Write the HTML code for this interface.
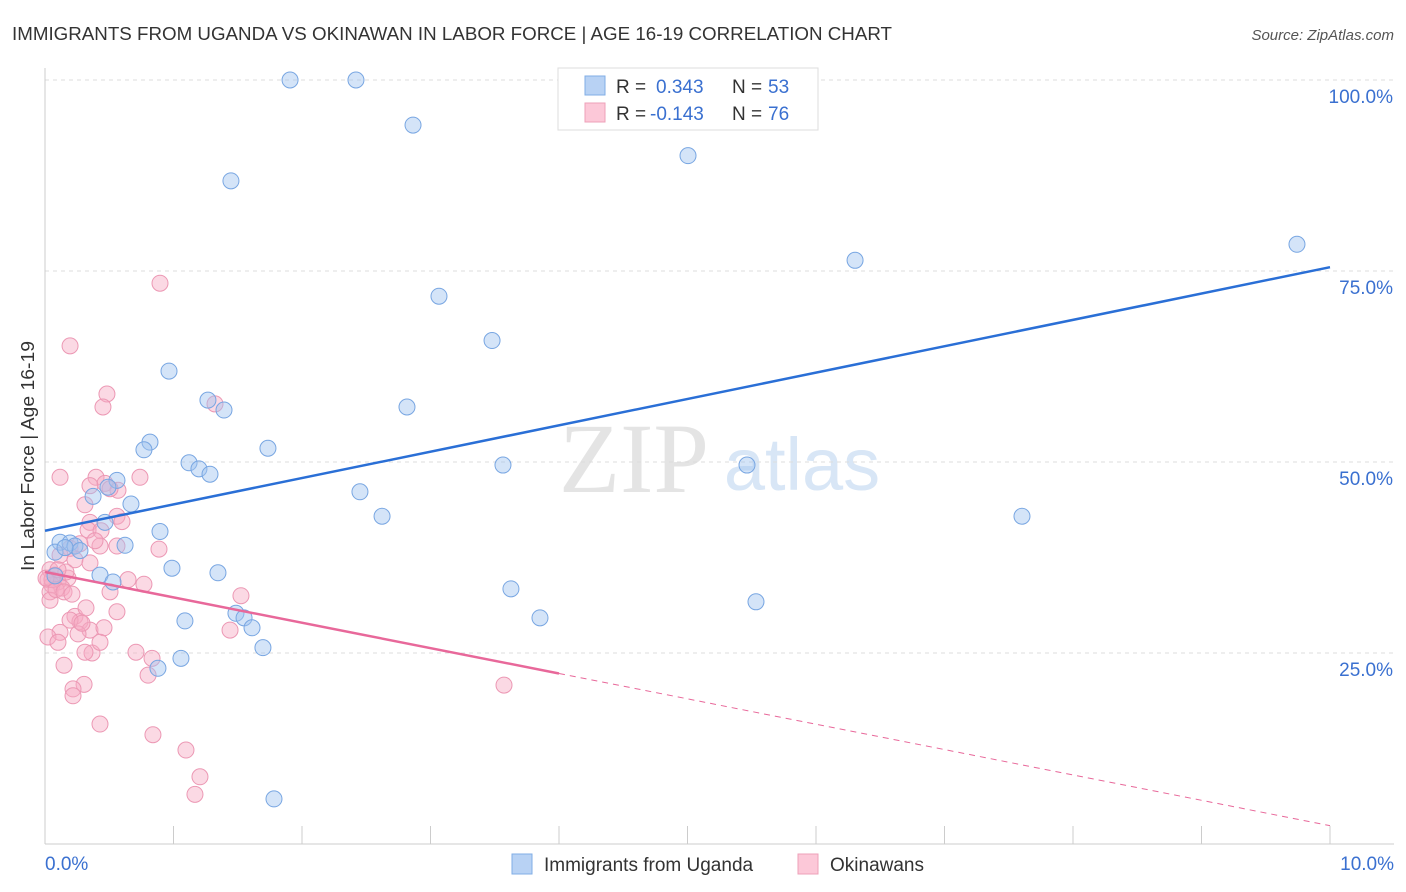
<!DOCTYPE html>
<html><head><meta charset="utf-8">
<style>
body{margin:0;background:#fff;font-family:"Liberation Sans",sans-serif;}
svg{display:block}
</style></head>
<body>
<svg id="chart" width="1406" height="892" xmlns="http://www.w3.org/2000/svg">
<text x="12" y="40" font-size="18" fill="#333" textLength="880" lengthAdjust="spacingAndGlyphs">IMMIGRANTS FROM UGANDA VS OKINAWAN IN LABOR FORCE | AGE 16-19 CORRELATION CHART</text>
<text x="1394" y="40" font-size="15" fill="#555" text-anchor="end" font-style="italic">Source: ZipAtlas.com</text>
<g>
<text x="634" y="492" font-size="100" fill="#e4e4e4" text-anchor="middle" font-family="Liberation Serif,serif">ZIP</text>
<text x="802" y="490" font-size="74" fill="#d8e6f6" text-anchor="middle">atlas</text>
</g>
<g id="grid"></g>
<g id="axes"></g>
<g id="pts"></g>
<g id="lines"></g>
<text transform="translate(34,456) rotate(-90)" font-size="18" fill="#333" text-anchor="middle" textLength="230" lengthAdjust="spacingAndGlyphs">In Labor Force | Age 16-19</text>
<g>
<rect x="558" y="68" width="260" height="62" fill="#fff" stroke="#ddd"/>
<rect x="585" y="76" width="20" height="19" fill="#b8d2f4" stroke="#80aee6"/>
<rect x="585" y="103" width="20" height="19" fill="#fcc8d8" stroke="#eea0b8"/>
<text x="616" y="93" font-size="19" fill="#333">R =</text><text x="656" y="93" font-size="19" fill="#3a70d0">0.343</text>
<text x="732" y="93" font-size="19" fill="#333">N =</text><text x="768" y="93" font-size="19" fill="#3a70d0">53</text>
<text x="616" y="120" font-size="19" fill="#333">R =</text><text x="650" y="120" font-size="19" fill="#3a70d0">-0.143</text>
<text x="732" y="120" font-size="19" fill="#333">N =</text><text x="768" y="120" font-size="19" fill="#3a70d0">76</text>
</g>
<g>
<rect x="512" y="854" width="20" height="20" fill="#b8d2f4" stroke="#80aee6"/>
<text x="544" y="871" font-size="19" fill="#333">Immigrants from Uganda</text>
<rect x="798" y="854" width="20" height="20" fill="#fcc8d8" stroke="#eea0b8"/>
<text x="830" y="871" font-size="19" fill="#333">Okinawans</text>
</g>
</svg>
<script>
const yTicks=[100,75,50,25];
const yTickLabels=["100.0%","75.0%","50.0%","25.0%"];
const xTickLabels=["0.0%","10.0%"];
const blueX=[1.907,2.420,2.864,1.447,5.004,6.304,9.743,3.066,3.479,0.965,1.268,1.393,2.817,1.735,0.817,0.770,1.121,1.198,1.284,3.564,5.463,0.560,0.490,0.374,0.669,2.451,2.623,7.603,0.467,0.895,0.117,0.195,0.233,0.623,0.078,0.272,0.988,1.346,0.428,0.529,3.626,1.486,1.549,1.611,1.089,3.852,5.533,1.696,1.058,0.879,1.782,0.078,0.156];
const blueY=[100,100,94.1,86.8,90.1,76.4,78.5,71.7,65.9,61.9,58.1,56.8,57.2,51.8,52.6,51.6,49.9,49.1,48.4,49.6,49.6,47.6,46.7,45.5,44.5,46.1,42.9,42.9,42.1,40.9,39.5,39.4,39.0,39.1,38.2,38.4,36.1,35.5,35.2,34.3,33.4,30.2,29.6,28.3,29.2,29.6,31.7,25.7,24.3,23.0,5.9,35.1,38.8];
const pinkX=[0.895,0.195,0.482,0.451,1.323,0.117,0.739,0.397,0.467,0.350,0.568,0.311,0.560,0.350,0.335,0.436,0.428,0.560,0.887,0.195,0.117,0.233,0.350,0.039,0.078,0.179,0.023,0.101,0.054,0.132,0.039,0.506,0.770,1.525,0.039,0.560,0.233,0.272,0.195,0.350,0.459,1.440,0.117,0.257,0.023,0.101,0.708,0.366,0.311,0.833,0.148,0.802,0.304,0.218,0.218,3.572,0.428,0.840,1.097,1.206,1.167,0.054,0.086,0.008,0.163,0.272,0.389,0.506,0.599,0.148,0.288,0.428,0.646,0.101,0.210,0.319];
const pinkY=[73.4,65.2,58.9,57.2,57.6,48.0,48.0,48.0,47.2,46.9,46.3,44.4,42.9,42.1,41.1,41.0,39.0,39.0,38.6,38.7,37.8,37.2,36.8,35.9,35.2,34.8,34.6,34.3,33.9,33.5,33.0,33.0,34.0,32.5,31.9,30.4,29.8,29.1,29.3,28.0,28.3,28.0,27.7,27.5,27.1,26.4,25.1,25.0,25.1,24.3,23.4,22.1,20.9,20.3,19.4,20.8,15.7,14.3,12.3,8.8,6.5,34.6,33.3,34.8,35.6,39.3,39.7,46.5,42.2,33.0,28.9,26.4,34.6,35.9,32.7,30.9];
const blueLine=[41.0,75.5];
const pinkLine=[35.6,2.4];
const pinkSolidEnd=4.0;
const X=v=>45+v*128.5, Y=v=>80+(100-v)*7.64;
const NS="http://www.w3.org/2000/svg";
function mk(p,t,a){const e=document.createElementNS(NS,t);for(const k in a)e.setAttribute(k,a[k]);p.appendChild(e);return e;}
const grid=document.getElementById('grid'),axes=document.getElementById('axes'),pts=document.getElementById('pts'),lines=document.getElementById('lines');
yTicks.forEach((t,i)=>{
 const l=mk(grid,'line',{x1:45,x2:1394,y1:Y(t),y2:Y(t),stroke:'#ddd','stroke-dasharray':'4,4'});
 
 
 const tx=mk(axes,'text',{x:1393,y:Y(t)+23,'font-size':19,fill:'#3a70d0','text-anchor':'end'});
 tx.textContent=yTickLabels[i];
 
 
});
const ax=mk(axes,'line',{x1:45,x2:1394,y1:Y(0),y2:Y(0),stroke:'#ccc'});


const ay=mk(axes,'line',{x1:45,x2:45,y1:68,y2:Y(0),stroke:'#ccc'});


for(let i=0;i<=10;i++){const t=mk(axes,'line',{x1:X(i),x2:X(i),y1:Y(0),y2:Y(0)-18,stroke:'#ccc'});
 
 }
[[0,'start',45],[1,'end',1394]].forEach(([i,a,x])=>{const t=mk(axes,'text',{x:x,y:870,'font-size':19,fill:'#3a70d0','text-anchor':a});t.textContent=xTickLabels[i];
 
 });
pinkX.forEach((x,i)=>{const c=mk(pts,'circle',{cx:X(x),cy:Y(pinkY[i]),r:8,fill:'rgba(246,170,196,0.45)',stroke:'#ec98b4','stroke-width':1});
 
 });
blueX.forEach((x,i)=>{const c=mk(pts,'circle',{cx:X(x),cy:Y(blueY[i]),r:8,fill:'rgba(160,196,240,0.45)',stroke:'#78a6e2','stroke-width':1});
 
 });
const bl=mk(lines,'line',{x1:X(0),y1:Y(blueLine[0]),x2:X(10),y2:Y(blueLine[1]),stroke:'#2a6fd6','stroke-width':2.5});


const pAt=v=>pinkLine[0]+(pinkLine[1]-pinkLine[0])*v/10;
const pl=mk(lines,'line',{x1:X(0),y1:Y(pinkLine[0]),x2:X(pinkSolidEnd),y2:Y(pAt(pinkSolidEnd)),stroke:'#e8689a','stroke-width':2.5});


const pd=mk(lines,'line',{x1:X(pinkSolidEnd),y1:Y(pAt(pinkSolidEnd)),x2:X(10),y2:Y(pinkLine[1]),stroke:'#e8689a','stroke-width':1,'stroke-dasharray':'6,5'});


</script>
</body></html>
